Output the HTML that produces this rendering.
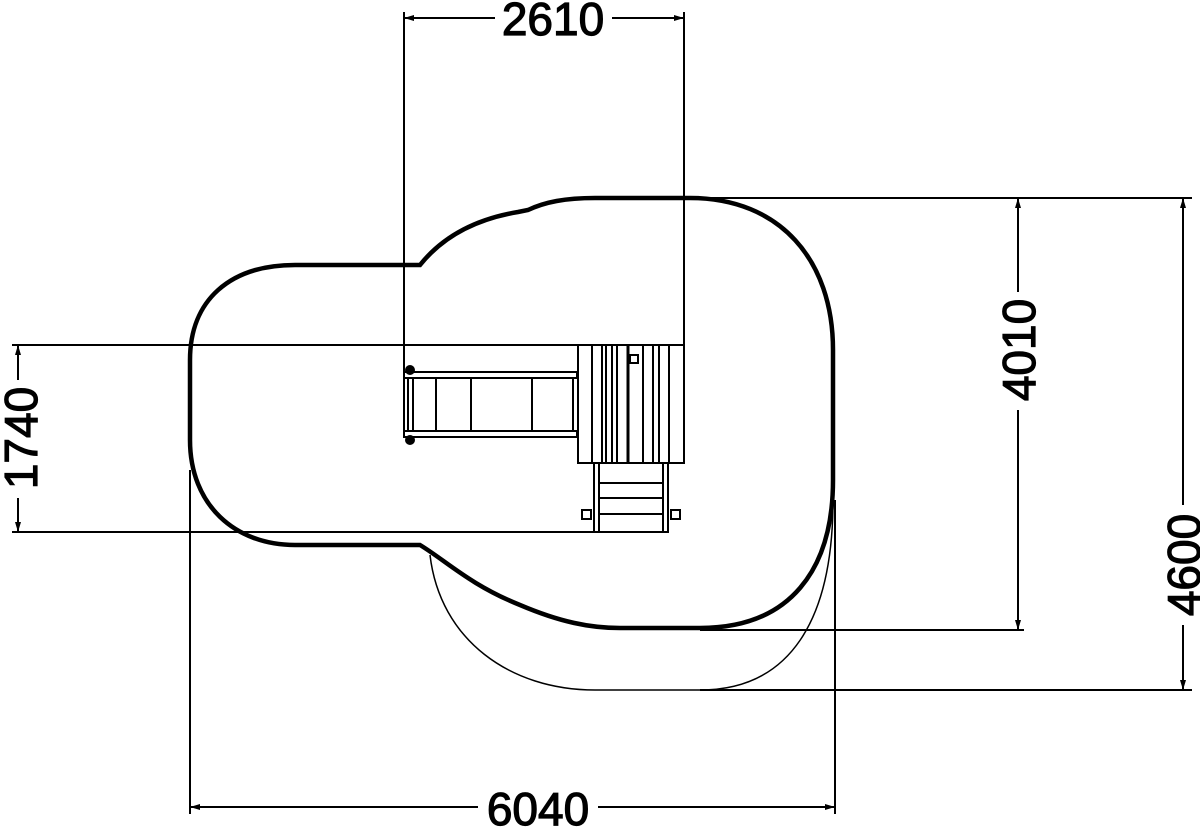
<!DOCTYPE html>
<html><head><style>
html,body{margin:0;padding:0;background:#fff;}
svg{display:block;}
text{font-family:"Liberation Sans",sans-serif;font-size:46px;fill:#000;stroke:#000;stroke-width:1.2;}
</style></head><body>
<svg width="1200" height="828" viewBox="0 0 1200 828" xmlns="http://www.w3.org/2000/svg">
<defs>
<marker id="a" viewBox="0 0 10 10" refX="10" refY="5" markerWidth="10" markerHeight="10" orient="auto-start-reverse" markerUnits="userSpaceOnUse"><path d="M0,2 L10,5 L0,8 Z" fill="#000"/></marker>
</defs>
<g fill="none" stroke="#000">
<path stroke-width="4.5" d="M420,265 L295,265 C230,265 190,300 190,360 L190,440 C190,505 235,545 295,545 L420,545 C445,560 470,585 520,605 C560,622 590,628 620,628 L700,628 C790,628 833,570 833,480 L833,350 C833,260 780,198 690,198 L595,198 C565,198 545,202 528,210 L518,212 C470,220 440,240 420,265 Z"/>
<path stroke-width="1.5" d="M430,555 C440,640 510,690 595,690 L700,690 C790,690 833,620 833,500"/>
<g stroke-width="2">
<line x1="404" y1="12" x2="404" y2="432"/>
<line x1="684" y1="12" x2="684" y2="345"/>
<line x1="190" y1="470" x2="190" y2="814"/>
<line x1="835" y1="500" x2="835" y2="814"/>
<line x1="12" y1="345" x2="684" y2="345"/>
<line x1="12" y1="532" x2="597" y2="532"/>
<line x1="684" y1="198" x2="1192" y2="198"/>
<line x1="700" y1="630" x2="1024" y2="630"/>
<line x1="700" y1="690" x2="1192" y2="690"/>
<line x1="404" y1="18" x2="495" y2="18" marker-start="url(#a)"/>
<line x1="612" y1="18" x2="684" y2="18" marker-end="url(#a)"/>
<line x1="190" y1="807" x2="478" y2="807" marker-start="url(#a)"/>
<line x1="598" y1="807" x2="835" y2="807" marker-end="url(#a)"/>
<line x1="18" y1="345" x2="18" y2="380" marker-start="url(#a)"/>
<line x1="18" y1="498" x2="18" y2="532" marker-end="url(#a)"/>
<line x1="1018" y1="198" x2="1018" y2="292" marker-start="url(#a)"/>
<line x1="1018" y1="410" x2="1018" y2="630" marker-end="url(#a)"/>
<line x1="1183" y1="198" x2="1183" y2="505" marker-start="url(#a)"/>
<line x1="1183" y1="625" x2="1183" y2="690" marker-end="url(#a)"/>
</g>
<g stroke-width="2">
<rect x="404" y="372" width="173" height="6"/>
<rect x="404" y="431" width="173" height="6"/>
<line x1="408" y1="378" x2="408" y2="431"/>
<line x1="413" y1="378" x2="413" y2="431"/>
<line x1="436" y1="378" x2="436" y2="431"/>
<line x1="471" y1="378" x2="471" y2="431"/>
<line x1="532" y1="378" x2="532" y2="431"/>
<line x1="573" y1="378" x2="573" y2="431"/>
<circle cx="410" cy="370" r="4" fill="#000"/>
<circle cx="410" cy="440" r="4" fill="#000"/>
<rect x="578" y="345" width="106" height="118"/>
<line x1="592" y1="345" x2="592" y2="463"/>
<line x1="602" y1="345" x2="602" y2="463"/>
<line x1="606" y1="345" x2="606" y2="463"/>
<line x1="612" y1="345" x2="612" y2="463"/>
<line x1="617" y1="345" x2="617" y2="463"/>
<line x1="628" y1="345" x2="628" y2="463" stroke-width="3"/>
<line x1="643" y1="345" x2="643" y2="463"/>
<line x1="653" y1="345" x2="653" y2="463"/>
<line x1="659" y1="345" x2="659" y2="463"/>
<line x1="669" y1="345" x2="669" y2="463"/>
<rect x="630" y="355" width="8" height="8" fill="#fff"/>
<rect x="594" y="463" width="74" height="69"/>
<line x1="599" y1="463" x2="599" y2="532"/>
<line x1="663" y1="463" x2="663" y2="532"/>
<line x1="599" y1="483" x2="663" y2="483"/>
<line x1="599" y1="498" x2="663" y2="498"/>
<line x1="599" y1="514" x2="663" y2="514"/>
<rect x="582" y="510" width="9" height="9" fill="#fff"/>
<rect x="671" y="510" width="9" height="9" fill="#fff"/>
</g>
</g>
<text x="553" y="35" text-anchor="middle">2610</text>
<text x="538" y="825" text-anchor="middle">6040</text>
<text transform="translate(37,438) rotate(-90)" text-anchor="middle">1740</text>
<text transform="translate(1035,350) rotate(-90)" text-anchor="middle">4010</text>
<text transform="translate(1200,565) rotate(-90)" text-anchor="middle">4600</text>
</svg>
</body></html>
